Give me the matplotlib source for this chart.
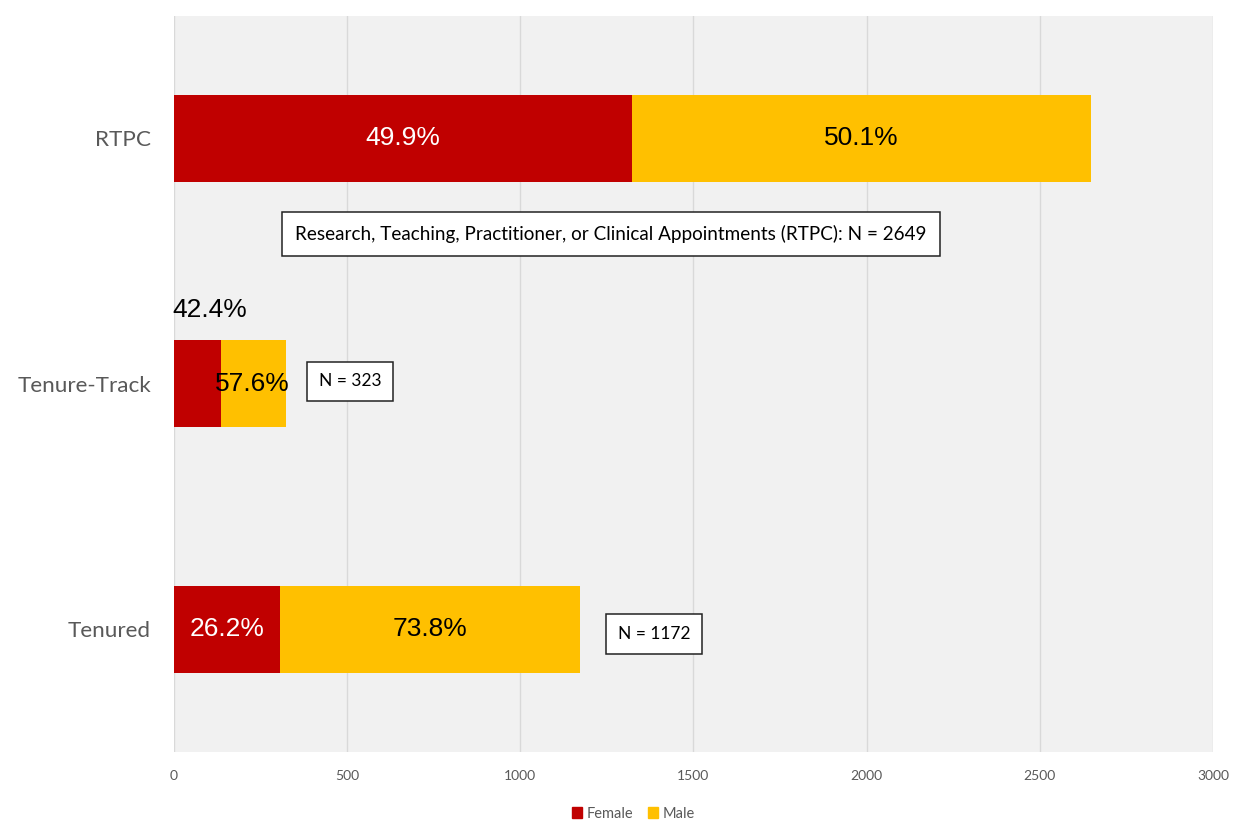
import numpy as np
import matplotlib.pyplot as plt
from matplotlib.patches import Patch

categories = ["RTPC", "Tenure-Track", "Tenured"]
female = [1322, 137, 307]
male = [1327, 186, 865]
female_pct = ["49.9%", "42.4%", "26.2%"]
male_pct = ["50.1%", "57.6%", "73.8%"]
totals_text = ["Research, Teaching, Practitioner, or Clinical Appointments (RTPC): N = 2649",
               "N = 323", "N = 1172"]

red = "#C00000"
gold = "#FFC000"
grey_txt = "#595959"

fig = plt.figure(figsize=(12.47, 8.38), dpi=100)
ax = fig.add_axes([0.1395, 0.1026, 0.8332, 0.8786])
ax.set_facecolor("#F1F1F1")

y = np.arange(len(categories))
h = 0.355
ax.barh(y, female, height=h, color=red, label="Female", zorder=3)
ax.barh(y, male, left=female, height=h, color=gold, label="Male", zorder=3)

ax.set_xlim(0, 3000)
ax.set_ylim(2.5, -0.5)
ax.set_xticks(np.arange(0, 3001, 500))
ax.set_yticks(y)
ax.set_yticklabels(categories, fontsize=16.2, color=grey_txt, family="Lato")
for lab in ax.get_xticklabels():
    lab.set_family("Lato")
ax.tick_params(axis="x", labelsize=10, colors=grey_txt, length=0, pad=13)
ax.tick_params(axis="y", length=0, pad=16.5)
ax.grid(axis="x", color="#D9D9D9", lw=1, zorder=0)
for s in ax.spines.values():
    s.set_visible(False)

pct_font = dict(fontsize=19, family="Liberation Sans", va="center", zorder=4)
# RTPC
ax.text(female[0] / 2, 0, female_pct[0], color="white", ha="center", **pct_font)
ax.text(female[0] + male[0] / 2, 0, male_pct[0], color="black", ha="center", **pct_font)
# Tenure-Track (labels offset in the original)
ax.text(-5, 0.70, female_pct[1], color="black", ha="left", **pct_font)
ax.text(225, 1.0, male_pct[1], color="black", ha="center", **pct_font)
# Tenured
ax.text(female[2] / 2, 2, female_pct[2], color="white", ha="center", **pct_font)
ax.text(female[2] + male[2] / 2, 2, male_pct[2], color="black", ha="center", **pct_font)

box_pos = [(1262, 0.39), (508, 0.99), (1386, 2.02)]
box_size = [13.6, 12.5, 12.5]
for (bx, by), t, fs in zip(box_pos, totals_text, box_size):
    ax.text(bx, by, t, ha="center", va="center", fontsize=fs, family="Lato",
            color="black", zorder=5,
            bbox=dict(boxstyle="square,pad=0.68", fc="white", ec="#222222", lw=1.1))

handles = [Patch(color=red, label="Female"), Patch(color=gold, label="Male")]
fig.legend(handles=handles, loc="center", bbox_to_anchor=(0.508, 0.029), ncol=2,
           frameon=False, handlelength=0.7, handleheight=0.7,
           handletextpad=0.3, columnspacing=1.0, labelcolor=grey_txt,
           prop={"family": "Lato", "size": 10.5})

fig.savefig("out.png", dpi=100)
